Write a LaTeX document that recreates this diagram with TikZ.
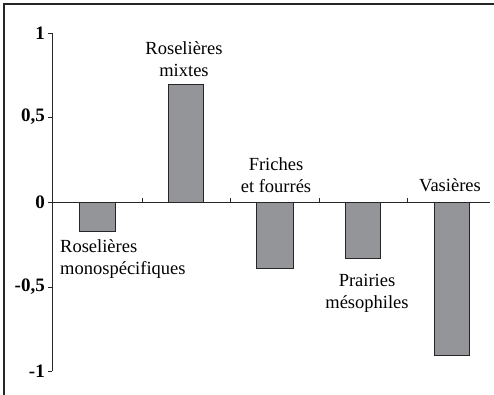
\documentclass[tikz,border=0pt]{standalone}
\usepackage{fontspec}
\setmainfont{Liberation Serif}
\usepackage{tikz}
\usetikzlibrary{positioning}
\definecolor{bargray}{HTML}{939598}
\tikzstyle{bar} = [draw=black!85, fill=bargray, line width=0.9pt]
\tikzstyle{axis} = [draw=black!85, line width=0.8pt]
\tikzstyle{ticklab} = [anchor=east, inner sep=0pt, font=\fontsize{19}{22}\selectfont\bfseries]
\tikzstyle{catlab} = [align=center, inner sep=0pt, font=\fontsize{18.5}{22}\selectfont]

\begin{document}
\begin{tikzpicture}[x=1pt, y=-1pt]
    \useasboundingbox (0,0) rectangle (494,395);
    \clip (0,0) rectangle (494,395);
    % Frame
    \draw [line width=1.2pt, draw=black!85] (4,4) rectangle (510,410);

    % Bars
    \draw [bar] (79,202) rectangle (115,231);
    \draw [bar] (168,84) rectangle (203,202);
    \draw [bar] (256,202) rectangle (293,268);
    \draw [bar] (345,202) rectangle (380,258);
    \draw [bar] (434,202) rectangle (469,355);

    % Axes
    \coordinate (ytop) at (52,33);
    \coordinate (ybot) at (52,371);
    \coordinate (xleft) at (52,202);
    \coordinate (xright) at (490,202);
    \draw [axis] (ytop) -- (ybot);
    \draw [axis] (xleft) -- (xright);
    \foreach \y/\lab in {33/1, 117/{0,5}, 202/0, 287/{-0,5}, 371/-1} {
        \draw [axis] (48,\y) -- (52,\y);
        \node [ticklab] (t\y) at (45,\y) {\lab};
    }
    \foreach \x in {142,230,319,407}
        \draw [axis] (\x,202) -- (\x,198);

    % Labels
    \node [catlab] (mixtes) at (184,59) {Roselières\\mixtes};
    \node [catlab, align=left, anchor=west] (mono) at (60,259) {Roselières\\monospécifiques};
    \node [catlab] (friches) at (276,175) {Friches\\et fourrés};
    \node [catlab] (prairies) at (367,293) {Prairies\\mésophiles};
    \node [catlab] (vasieres) at (450,185) {Vasières};
\end{tikzpicture}
\end{document}
